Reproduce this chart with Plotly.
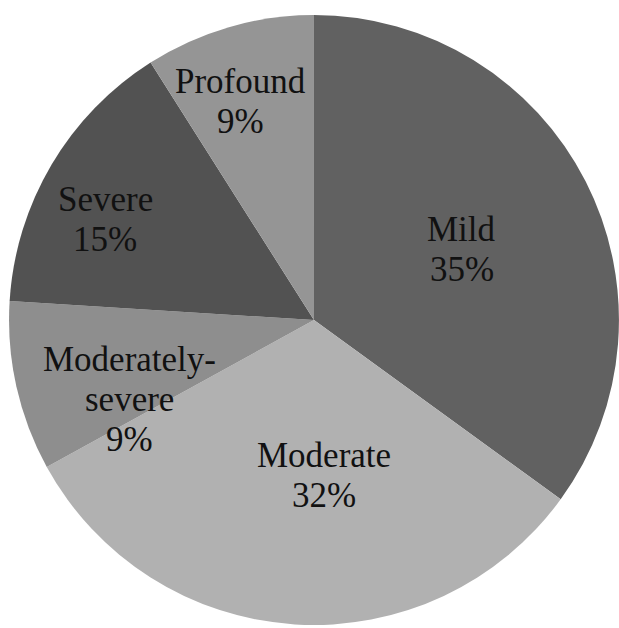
import math
import plotly.graph_objects as go

# Hearing-loss severity distribution
categories = ["Mild", "Moderate", "Moderately-severe", "Severe", "Profound"]
shares = [35, 32, 9, 15, 9]
label_lines = [["Mild"], ["Moderate"], ["Moderately-", "severe"], ["Severe"], ["Profound"]]

slice_colors = ["#616161", "#b1b1b1", "#8e8e8e", "#525252", "#959595"]
# radial position of each label block (fraction of radius) and angle nudge (deg)
label_radius = [0.537, 0.51, 0.66, 0.76, 0.755]
label_nudge = [1.4, -7.3, -10.7, -4.8, -2.3]
LINE_STEP = 40  # px between text lines
FONT = dict(family="Liberation Serif, Times New Roman, serif", size=35, color="#111111")

W, H = 619, 628
dom_x = [0.0145, 1.0]
dom_y = [0.0048, 0.976]

fig = go.Figure(
    go.Pie(
        labels=categories,
        values=shares,
        sort=False,
        direction="clockwise",
        rotation=0,
        marker=dict(colors=slice_colors, line=dict(width=0)),
        textinfo="none",
        hoverinfo="label+percent",
        showlegend=False,
        domain=dict(x=dom_x, y=dom_y),
    )
)

# pie geometry in pixels (y measured upward), to place the labels
cx = (dom_x[0] + dom_x[1]) / 2 * W
cy = (dom_y[0] + dom_y[1]) / 2 * H
r = min((dom_x[1] - dom_x[0]) * W, (dom_y[1] - dom_y[0]) * H) / 2

total = sum(shares)
start = 0.0
for lines, val, rf, nudge in zip(label_lines, shares, label_radius, label_nudge):
    mid = (start + val / 2) / total * 360 + nudge
    start += val
    th = math.radians(mid)
    px = cx + rf * r * math.sin(th)
    py = cy + rf * r * math.cos(th)
    block = lines + [f"{val}%"]
    n = len(block)
    for i, line in enumerate(block):
        ly = py - (i - (n - 1) / 2) * LINE_STEP
        fig.add_annotation(
            x=px / W,
            y=ly / H,
            xref="paper",
            yref="paper",
            xanchor="center",
            yanchor="middle",
            text=line,
            showarrow=False,
            font=FONT,
        )

fig.update_layout(
    width=W,
    height=H,
    margin=dict(l=0, r=0, t=0, b=0),
    paper_bgcolor="white",
    plot_bgcolor="white",
)

fig.write_html("out.html")
